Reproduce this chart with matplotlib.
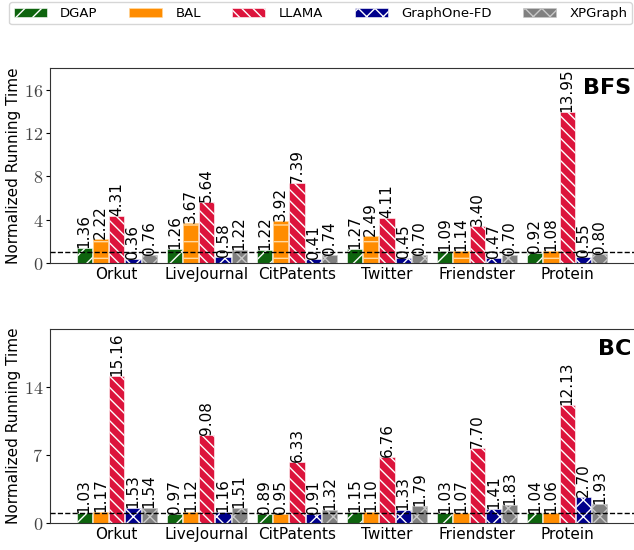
import matplotlib
matplotlib.use("Agg")
import matplotlib.pyplot as plt
import numpy as np

categories = ["Orkut", "LiveJournal", "CitPatents", "Twitter", "Friendster", "Protein"]
systems = ["DGAP", "BAL", "LLAMA", "GraphOne-FD", "XPGraph"]

bfs_dgap = [1.36, 1.26, 1.22, 1.27, 1.09, 0.92]
bfs_bal = [2.22, 3.67, 3.92, 2.49, 1.14, 1.08]
bfs_llama = [4.31, 5.64, 7.39, 4.11, 3.40, 13.95]
bfs_graphone = [0.36, 0.58, 0.41, 0.45, 0.47, 0.55]
bfs_xpgraph = [0.76, 1.22, 0.74, 0.70, 0.70, 0.80]

bc_dgap = [1.03, 0.97, 0.89, 1.15, 1.03, 1.04]
bc_bal = [1.17, 1.12, 0.95, 1.10, 1.07, 1.06]
bc_llama = [15.16, 9.08, 6.33, 6.76, 7.70, 12.13]
bc_graphone = [1.53, 1.16, 0.91, 1.33, 1.41, 2.70]
bc_xpgraph = [1.54, 1.51, 1.32, 1.79, 1.83, 1.93]

bfs_ticks = [0, 4, 8, 12, 16]
bc_ticks = [0, 7, 14]

colors = ["#0e640e", "#ff8c00", "#dc143c", "#00008b", "#808080"]
hatches = ["//", "-", "\\\\\\", "xx", "xx"]
hatch_colors = ["white", "#ffd9a0", "white", "white", "#c8c8c8"]

plt.rcParams["hatch.linewidth"] = 1.0
plt.rcParams["mathtext.fontset"] = "cm"

fig = plt.figure(figsize=(6.34, 5.5), dpi=100)
ax1 = fig.add_axes([0.0789, 0.5218, 0.9211, 0.3546])
ax2 = fig.add_axes([0.0789, 0.0491, 0.9211, 0.3527])

x = np.arange(len(categories))
w = 0.18

def draw(ax, series, ticks, ylim, title):
    handles = []
    for i, vals in enumerate(series):
        pos = x + (i - 2) * w
        bars = ax.bar(pos, vals, w * 0.94, color=colors[i], hatch=hatches[i],
                      edgecolor=hatch_colors[i], linewidth=0.4, label=systems[i], zorder=2)
        handles.append(bars)
        for p, v in zip(pos, vals):
            ax.text(p, v, f"{v:.2f}", rotation=90, ha="center", va="bottom",
                    fontsize=11, color="black", zorder=3)
    ax.axhline(1.0, color="black", linestyle="--", linewidth=1.0, zorder=4)
    ax.set_xlim(-0.74, 5.74)
    ax.set_ylim(*ylim)
    ax.set_yticks(ticks)
    ax.set_yticklabels([f"${t}$" for t in ticks], fontsize=13, color="#444444")
    ax.set_xticks(x)
    ax.set_xticklabels(categories, fontsize=11)
    ax.tick_params(axis="x", length=0, pad=3)
    ax.tick_params(axis="y", length=3, pad=2)
    ax.set_ylabel("Normalized Running Time", fontsize=11, labelpad=2)
    ax.spines["right"].set_visible(False)
    for s in ["top", "left", "bottom"]:
        ax.spines[s].set_color("#333333")
    ax.text(0.995, 0.95, title, transform=ax.transAxes, ha="right", va="top",
            fontsize=16, fontweight="bold")
    return handles

h = draw(ax1, [bfs_dgap, bfs_bal, bfs_llama, bfs_graphone, bfs_xpgraph], bfs_ticks, (0, 18), "BFS")
draw(ax2, [bc_dgap, bc_bal, bc_llama, bc_graphone, bc_xpgraph], bc_ticks, (0, 20), "BC")

fig.legend(h, systems, loc="upper left", bbox_to_anchor=(0.004, 1.008), ncol=5,
           fontsize=9.5, frameon=True, handlelength=2.5, columnspacing=2.4,
           borderpad=0.35, handletextpad=1.0, edgecolor="#cccccc", fancybox=True)

fig.savefig("out.png", dpi=100)
